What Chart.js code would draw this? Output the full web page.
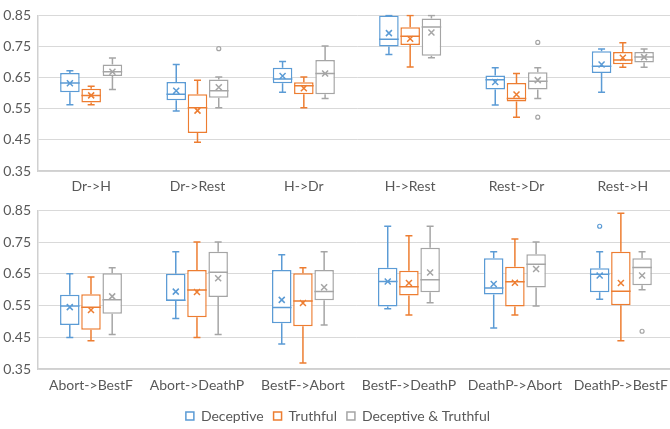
<!DOCTYPE html>
<html>
<head>
<meta charset="utf-8">
<script src="https://cdn.jsdelivr.net/npm/chart.js@4"></script>
<style>
  html, body { margin: 0; padding: 0; background: #fff; overflow: hidden; width: 670px; height: 429px; }
  canvas { display: block; }
</style>
</head>
<body>
<canvas id="topChart" width="676" height="195"></canvas>
<canvas id="bottomChart" width="676" height="238"></canvas>
<script>
const seriesNames = ["Deceptive", "Truthful", "Deceptive & Truthful"];
const seriesColors = ["#5B9BD5", "#ED7D31", "#A5A5A5"];
const yTicks = [0.35, 0.45, 0.55, 0.65, 0.75, 0.85];

const topCategories = ["Dr->H", "Dr->Rest", "H->Dr", "H->Rest", "Rest->Dr", "Rest->H"];
const bottomCategories = ["Abort->BestF", "Abort->DeathP", "BestF->Abort", "BestF->DeathP", "DeathP->Abort", "DeathP->BestF"];

// each row: low whisker, q1, median, q3, high whisker, mean
const topDeceptive = [
  [0.563, 0.603, 0.633, 0.665, 0.672, 0.632],
  [0.543, 0.577, 0.597, 0.636, 0.692, 0.608],
  [0.603, 0.632, 0.646, 0.682, 0.702, 0.655],
  [0.724, 0.750, 0.773, 0.850, 0.850, 0.793],
  [0.562, 0.612, 0.643, 0.657, 0.682, 0.636],
  [0.603, 0.665, 0.687, 0.735, 0.742, 0.692]
];
const topTruthful = [
  [0.563, 0.570, 0.593, 0.614, 0.622, 0.593],
  [0.442, 0.472, 0.553, 0.597, 0.642, 0.544],
  [0.553, 0.597, 0.624, 0.635, 0.652, 0.616],
  [0.684, 0.755, 0.783, 0.812, 0.850, 0.775],
  [0.523, 0.573, 0.583, 0.633, 0.663, 0.596],
  [0.683, 0.693, 0.707, 0.732, 0.762, 0.714]
];
const topBoth = [
  [0.612, 0.655, 0.669, 0.692, 0.713, 0.669],
  [0.553, 0.585, 0.608, 0.644, 0.652, 0.619],
  [0.583, 0.597, 0.663, 0.707, 0.752, 0.663],
  [0.714, 0.720, 0.813, 0.840, 0.850, 0.795],
  [0.583, 0.612, 0.638, 0.667, 0.682, 0.642],
  [0.683, 0.699, 0.716, 0.732, 0.742, 0.716]
];
// series index, category index, value
const topOutliers = [[2, 1, 0.743], [2, 4, 0.763], [2, 4, 0.523]];

const bottomDeceptive = [
  [0.449, 0.489, 0.549, 0.584, 0.650, 0.545],
  [0.509, 0.564, 0.567, 0.650, 0.720, 0.594],
  [0.429, 0.494, 0.544, 0.662, 0.710, 0.568],
  [0.540, 0.547, 0.626, 0.669, 0.800, 0.626],
  [0.479, 0.585, 0.605, 0.699, 0.720, 0.618],
  [0.570, 0.592, 0.649, 0.668, 0.720, 0.645]
];
const bottomTruthful = [
  [0.439, 0.474, 0.545, 0.586, 0.640, 0.536],
  [0.449, 0.513, 0.599, 0.662, 0.750, 0.593],
  [0.369, 0.485, 0.564, 0.652, 0.669, 0.558],
  [0.520, 0.582, 0.609, 0.660, 0.770, 0.621],
  [0.520, 0.547, 0.625, 0.672, 0.760, 0.622],
  [0.439, 0.551, 0.595, 0.720, 0.841, 0.621]
];
const bottomBoth = [
  [0.459, 0.524, 0.568, 0.652, 0.669, 0.579],
  [0.459, 0.577, 0.655, 0.720, 0.750, 0.636],
  [0.489, 0.567, 0.594, 0.662, 0.720, 0.608],
  [0.559, 0.592, 0.631, 0.732, 0.800, 0.654],
  [0.549, 0.607, 0.680, 0.712, 0.750, 0.665],
  [0.600, 0.614, 0.670, 0.699, 0.720, 0.645]
];
const bottomOutliers = [[0, 5, 0.800], [2, 5, 0.469]];

const textColor = "#595959";
const fontFamily = "Lato, 'Liberation Sans', sans-serif";

// whiskers, medians, means and outliers drawn on top of the floating bars
const boxParts = {
  id: "boxParts",
  afterDatasetsDraw(chart) {
    const ctx = chart.ctx;
    const y = chart.scales.y;
    const area = chart.chartArea;
    ctx.save();
    ctx.beginPath();
    ctx.rect(area.left, area.top - 1, area.right - area.left, area.bottom - area.top + 2);
    ctx.clip();
    chart.data.datasets.forEach((ds, i) => {
      const meta = chart.getDatasetMeta(i);
      if (meta.hidden) return;
      ctx.strokeStyle = ds.borderColor;
      ctx.lineWidth = 1.5;
      meta.data.forEach((bar, j) => {
        const [low, q1, med, q3, high, mean] = ds.stats[j];
        const x = bar.x;
        const half = bar.width / 2;
        const cap = 3.5;
        ctx.beginPath();
        ctx.moveTo(x, y.getPixelForValue(q3));
        ctx.lineTo(x, y.getPixelForValue(high));
        ctx.moveTo(x - cap, y.getPixelForValue(high));
        ctx.lineTo(x + cap, y.getPixelForValue(high));
        ctx.moveTo(x, y.getPixelForValue(q1));
        ctx.lineTo(x, y.getPixelForValue(low));
        ctx.moveTo(x - cap, y.getPixelForValue(low));
        ctx.lineTo(x + cap, y.getPixelForValue(low));
        ctx.moveTo(x - half, y.getPixelForValue(med));
        ctx.lineTo(x + half, y.getPixelForValue(med));
        const my = y.getPixelForValue(mean);
        ctx.moveTo(x - 3, my - 3);
        ctx.lineTo(x + 3, my + 3);
        ctx.moveTo(x + 3, my - 3);
        ctx.lineTo(x - 3, my + 3);
        ctx.stroke();
      });
    });
    chart.options.plugins.boxParts.outliers.forEach(([s, c, v]) => {
      const bar = chart.getDatasetMeta(s).data[c];
      ctx.beginPath();
      ctx.arc(bar.x, y.getPixelForValue(v), 2, 0, Math.PI * 2);
      ctx.fillStyle = "#fff";
      ctx.fill();
      ctx.strokeStyle = seriesColors[s];
      ctx.lineWidth = 1.2;
      ctx.stroke();
    });
    ctx.restore();
  }
};

function makeChart(id, categories, rows, outliers, showLegend) {
  return new Chart(document.getElementById(id), {
    type: "bar",
    data: {
      labels: categories,
      datasets: rows.map((r, i) => ({
        label: seriesNames[i],
        data: r.map(s => [s[1], s[3]]),
        stats: r,
        backgroundColor: "#ffffff",
        borderColor: seriesColors[i],
        borderWidth: 1.5,
        borderSkipped: false,
        categoryPercentage: 0.6,
        barPercentage: 0.92
      }))
    },
    options: {
      responsive: false,
      animation: false,
      layout: { padding: { top: 10, right: 0, bottom: 0, left: 0 } },
      scales: {
        x: {
          grid: { display: false, drawTicks: false },
          border: { color: "#D0D0D0", width: 1.5 },
          ticks: { color: textColor, font: { family: fontFamily, size: 14 }, padding: showLegend ? 8 : 7, maxRotation: 0 },
          afterFit: (scale) => { scale.height = showLegend ? 30 : 24; }
        },
        y: {
          min: yTicks[0],
          max: yTicks[yTicks.length - 1],
          afterBuildTicks: (scale) => { scale.ticks = yTicks.map(v => ({ value: v })); },
          grid: { color: "#D9D9D9", drawTicks: false },
          border: { color: "#D0D0D0", width: 1.5 },
          ticks: {
            color: textColor,
            font: { family: fontFamily, size: 14 },
            padding: 7,
            callback: (v) => v.toFixed(2)
          },
          afterFit: (scale) => { scale.width = 38; }
        }
      },
      plugins: {
        legend: {
          display: showLegend,
          position: "bottom",
          labels: {
            color: textColor,
            font: { family: fontFamily, size: 14 },
            boxWidth: 8,
            boxHeight: 8,
            padding: 10
          }
        },
        tooltip: { enabled: false },
        boxParts: { outliers: outliers }
      }
    },
    plugins: [boxParts]
  });
}

makeChart("topChart", topCategories, [topDeceptive, topTruthful, topBoth], topOutliers, false);
makeChart("bottomChart", bottomCategories, [bottomDeceptive, bottomTruthful, bottomBoth], bottomOutliers, true);
</script>
</body>
</html>
